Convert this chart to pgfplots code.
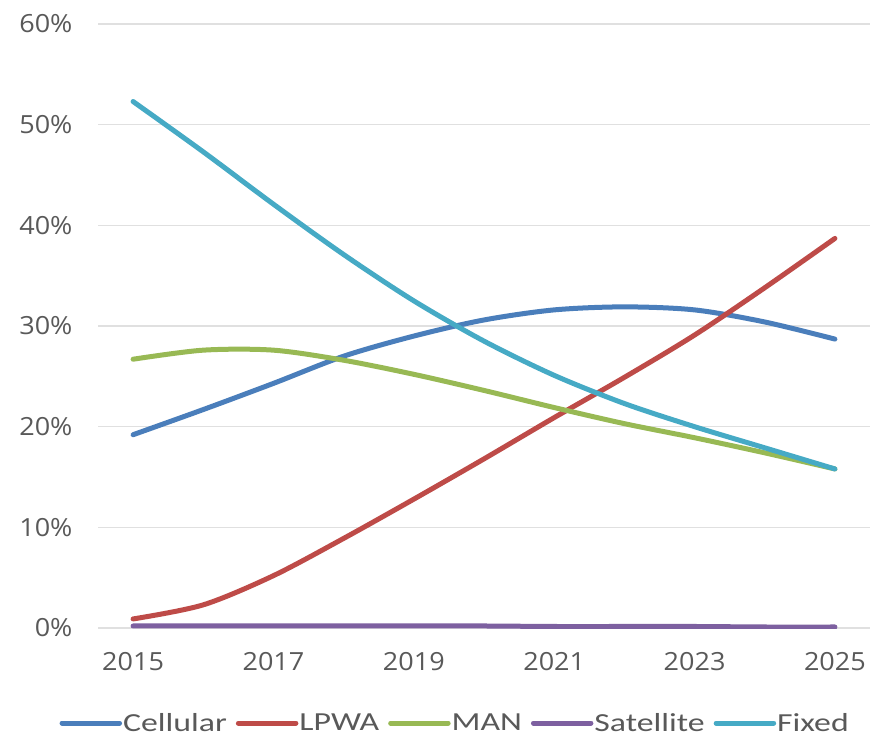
\documentclass[border=0pt]{standalone}
\usepackage{fontspec}
\setmainfont{Open Sans}[FakeStretch=1.08]
\newfontfamily\legfont{Carlito}[FakeStretch=1.3]
\usepackage{pgfplots}
\pgfplotsset{compat=1.18}
\definecolor{cCell}{HTML}{4A7EBB}
\definecolor{cLPWA}{HTML}{BE4B48}
\definecolor{cMAN}{HTML}{98B954}
\definecolor{cSat}{HTML}{7D60A0}
\definecolor{cFix}{HTML}{46AAC5}
\definecolor{tickgray}{HTML}{595959}
\begin{document}
\begin{tikzpicture}
\begin{axis}[
  at={(0pt,0pt)}, anchor=south west,
  scale only axis, width=772pt, height=604pt,
  xmin=2014.5, xmax=2025.5, ymin=0, ymax=60,
  xtick={2015,2017,2019,2021,2023,2025},
  ytick={0,10,20,30,40,50,60},
  xticklabel style={/pgf/number format/1000 sep={}, anchor=north, yshift=-21pt},
  yticklabel={\pgfmathprintnumber{\tick}\%},
  yticklabel style={anchor=east, xshift=-22pt},
  /pgf/number format/assume math mode=true,
  tick label style={font=\fontsize{25}{29}\selectfont, text=tickgray},
  axis line style={draw=none},
  major tick length=0pt,
  ymajorgrids, grid style={color=black!12, line width=1.2pt},
  every axis plot/.append style={line width=5pt, smooth, line cap=round, line join=round},
  legend columns=5,
  legend style={at={(axis description cs:0.462,0)}, anchor=center, yshift=-95pt,
    draw=none, fill=none, font=\legfont\fontsize{26}{30}\selectfont, text=tickgray,
    /tikz/every even column/.append style={column sep=8pt},
    /tikz/every odd column/.append style={column sep=0pt},
    nodes={inner xsep=1pt, inner ysep=0pt},
    inner sep=0pt},
  legend image code/.code={\draw[#1, line width=5pt, line cap=round] (0pt,0pt) -- (57.5pt,0pt);},
]
\addplot[cCell] coordinates {(2015,19.2) (2016,21.7) (2017,24.3) (2018,27.0) (2019,29.0) (2020,30.6) (2021,31.6) (2022,31.9) (2023,31.6) (2024,30.4) (2025,28.7)};
\addlegendentry{Cellular}
\addplot[cLPWA] coordinates {(2015,0.9) (2016,2.3) (2017,5.2) (2018,8.9) (2019,12.8) (2020,16.8) (2021,20.9) (2022,24.9) (2023,29.1) (2024,33.8) (2025,38.7)};
\addlegendentry{LPWA}
\addplot[cMAN] coordinates {(2015,26.7) (2016,27.6) (2017,27.6) (2018,26.6) (2019,25.2) (2020,23.6) (2021,21.9) (2022,20.3) (2023,18.9) (2024,17.4) (2025,15.8)};
\addlegendentry{MAN}
\addplot[cSat] coordinates {(2015,0.2) (2016,0.2) (2017,0.2) (2018,0.2) (2019,0.2) (2020,0.2) (2021,0.15) (2022,0.15) (2023,0.15) (2024,0.1) (2025,0.1)};
\addlegendentry{Satellite}
\addplot[cFix] coordinates {(2015,52.3) (2016,47.3) (2017,42.1) (2018,37.1) (2019,32.5) (2020,28.5) (2021,25.1) (2022,22.3) (2023,20.0) (2024,17.9) (2025,15.8)};
\addlegendentry{Fixed}
\end{axis}
\useasboundingbox (-98pt,-111pt) rectangle (775pt,628pt);
\end{tikzpicture}
\end{document}
